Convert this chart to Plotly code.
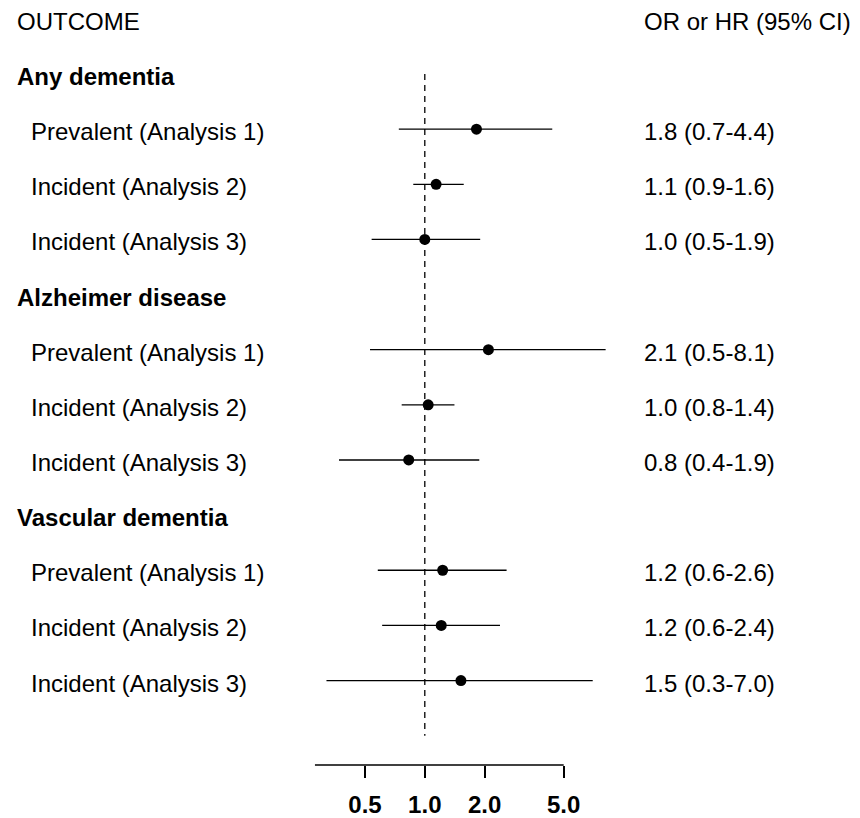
import plotly.graph_objects as go

# ---- data ----
groups = ["Any dementia", "Alzheimer disease", "Vascular dementia"]
sub_labels = ["Prevalent (Analysis 1)", "Incident (Analysis 2)", "Incident (Analysis 3)"]
estimates = [1.82, 1.14, 1.00, 2.09, 1.04, 0.83, 1.23, 1.21, 1.52]
lower_ci = [0.74, 0.875, 0.54, 0.53, 0.765, 0.37, 0.58, 0.61, 0.32]
upper_ci = [4.38, 1.57, 1.90, 8.13, 1.41, 1.88, 2.58, 2.39, 7.00]
ci_text = ["1.8 (0.7-4.4)", "1.1 (0.9-1.6)", "1.0 (0.5-1.9)",
           "2.1 (0.5-8.1)", "1.0 (0.8-1.4)", "0.8 (0.4-1.9)",
           "1.2 (0.6-2.6)", "1.2 (0.6-2.4)", "1.5 (0.3-7.0)"]
tick_vals = [0.5, 1.0, 2.0, 5.0]
tick_text = ["0.5", "1.0", "2.0", "5.0"]
axis_min, axis_max = 0.28, 5.0
ref_value = 1.0

W, H = 860, 818
FONT = "Liberation Sans, Arial, sans-serif"

# row layout: header rows and sub rows
row_y = []
header_y = []
idx = 0
for g in groups:
    header_y.append(idx)
    idx += 1
    for _ in sub_labels:
        row_y.append(idx)
        idx += 1
n_rows = idx

fig = go.Figure()

# CI lines
xs, ys = [], []
for lo, hi, y in zip(lower_ci, upper_ci, row_y):
    xs += [lo, hi, None]
    ys += [y, y, None]
fig.add_trace(go.Scatter(x=xs, y=ys, mode="lines",
                         line=dict(color="black", width=1.3),
                         hoverinfo="skip", showlegend=False))
# points
fig.add_trace(go.Scatter(x=estimates, y=row_y, mode="markers",
                         marker=dict(color="black", size=11, symbol="circle"),
                         showlegend=False))

# reference line
fig.add_shape(type="line", xref="x", yref="y", x0=ref_value, x1=ref_value,
              y0=0, y1=n_rows, line=dict(color="black", width=1.3, dash="6px,5px"))
# axis line
fig.add_shape(type="line", xref="x", yref="paper", x0=axis_min, x1=axis_max,
              y0=0, y1=0, line=dict(color="black", width=1.5))

ann = []
def add_text(xpx, y, text, bold=False):
    ann.append(dict(x=xpx / W, xref="paper", y=y, yref="y",
                    text=(f"<b>{text}</b>" if bold else text),
                    showarrow=False, xanchor="left", yanchor="middle", yshift=-2.5,
                    font=dict(family=FONT, size=24, color="black")))

add_text(15, -1, "OUTCOME")
add_text(642, -1, "OR or HR (95% CI)")
k = 0
for gi, g in enumerate(groups):
    add_text(15, header_y[gi], g, bold=True)
    for s in sub_labels:
        add_text(29, row_y[k], s)
        add_text(642, row_y[k], ci_text[k])
        k += 1

bottom_margin = 53
plot_h = H - bottom_margin
top_px = 74.0
step = 55.14
y_top = -top_px / step
y_bot = (plot_h - top_px) / step

x_left = (0 - 424.8) / 198.7
x_right = (W - 424.8) / 198.7

fig.update_layout(
    width=W, height=H,
    margin=dict(l=0, r=0, t=0, b=bottom_margin),
    paper_bgcolor="white", plot_bgcolor="white",
    annotations=ann,
    xaxis=dict(type="log", range=[x_left, x_right], tickvals=tick_vals, ticktext=tick_text,
               ticks="outside", ticklen=12, tickwidth=1.5, tickcolor="black",
               ticklabelstandoff=6,
               showgrid=False, zeroline=False, showline=False,
               tickfont=dict(family=FONT, size=24, color="black", weight="bold")),
    yaxis=dict(range=[y_bot, y_top], visible=False, showgrid=False, zeroline=False),
)

fig.write_html("out.html",
               config={"displayModeBar": False},
               post_script="document.body.style.margin='0';document.body.style.padding='0';document.body.style.overflow='hidden';")
